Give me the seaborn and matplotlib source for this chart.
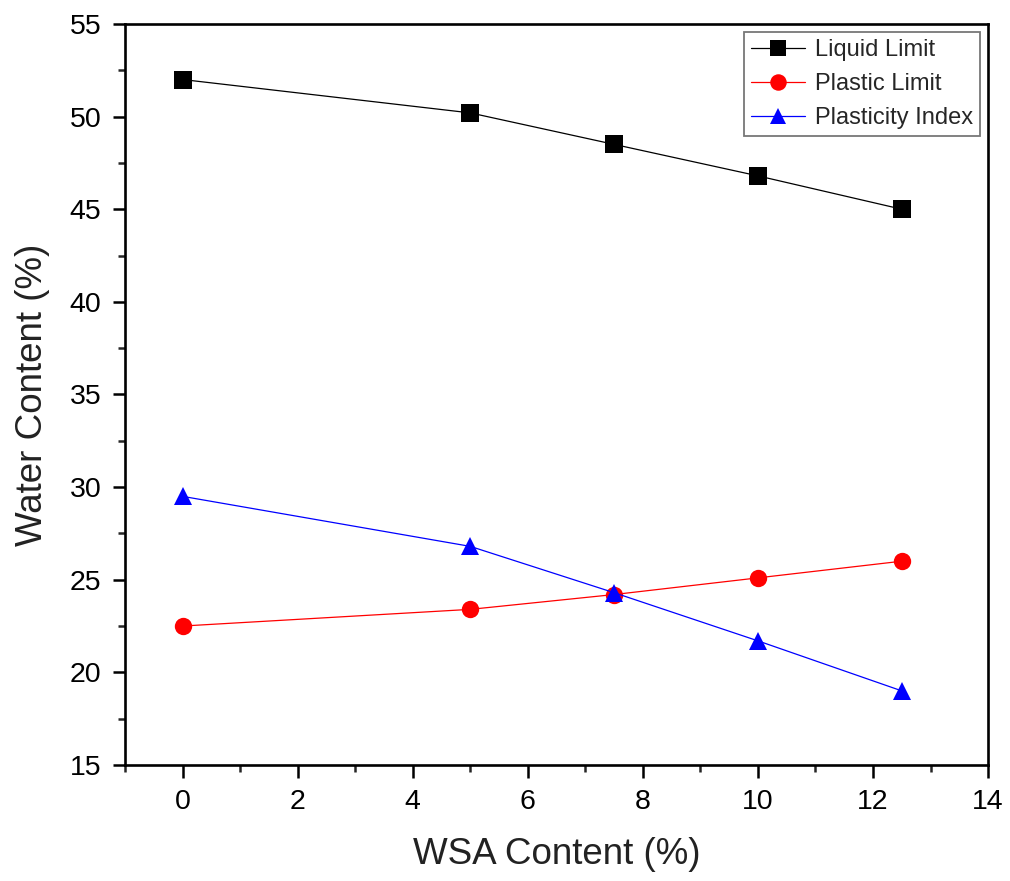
import pandas as pd
import matplotlib.pyplot as plt
import seaborn as sns
from matplotlib.ticker import MultipleLocator

wsa = [0, 5, 7.5, 10, 12.5]
liquid_limit = [52.0, 50.2, 48.5, 46.8, 45.0]
plastic_limit = [22.5, 23.4, 24.2, 25.1, 26.0]
plasticity_index = [29.5, 26.8, 24.3, 21.7, 19.0]

series = ["Liquid Limit", "Plastic Limit", "Plasticity Index"]
df = pd.concat([
    pd.DataFrame({"wsa": wsa, "water": vals, "prop": name})
    for name, vals in zip(series, [liquid_limit, plastic_limit, plasticity_index])
])

sns.set_style("ticks")
plt.rcParams["font.family"] = ["Liberation Sans", "DejaVu Sans"]

fig = plt.figure(figsize=(10.1, 8.81), dpi=100)
ax = fig.add_axes([0.1238, 0.1317, 0.8545, 0.8411])

ax = sns.lineplot(
    data=df, x="wsa", y="water", hue="prop", style="prop",
    palette={"Liquid Limit": "black", "Plastic Limit": "red", "Plasticity Index": "blue"},
    markers={"Liquid Limit": "s", "Plastic Limit": "o", "Plasticity Index": "^"},
    dashes=False, markersize=12.5, linewidth=0.9, markeredgewidth=0, ax=ax,
)

ax.set_xlim(-1, 14)
ax.set_ylim(15, 55)
ax.xaxis.set_major_locator(MultipleLocator(2))
ax.xaxis.set_minor_locator(MultipleLocator(1))
ax.yaxis.set_major_locator(MultipleLocator(5))
ax.yaxis.set_minor_locator(MultipleLocator(2.5))
ax.tick_params(which="major", length=9, width=1.8, labelsize=20.5, colors="black", pad=8)
ax.tick_params(which="minor", length=5, width=1.8)
for s in ax.spines.values():
    s.set_linewidth(1.9)
    s.set_color("black")

ax.set_xlabel("WSA Content (%)", fontsize=26.5, labelpad=16, color="#222222")
ax.set_ylabel("Water Content (%)", fontsize=26.5, labelpad=14, color="#222222")

leg = ax.legend(title=None, loc="upper right", fontsize=17, frameon=True,
                fancybox=False, edgecolor="#555555", borderaxespad=0.35,
                handlelength=2.3, handletextpad=0.4, labelspacing=0.5,
                borderpad=0.3, markerscale=0.95)
leg.get_frame().set_linewidth(1.3)

fig.savefig("out.png", dpi=100)
